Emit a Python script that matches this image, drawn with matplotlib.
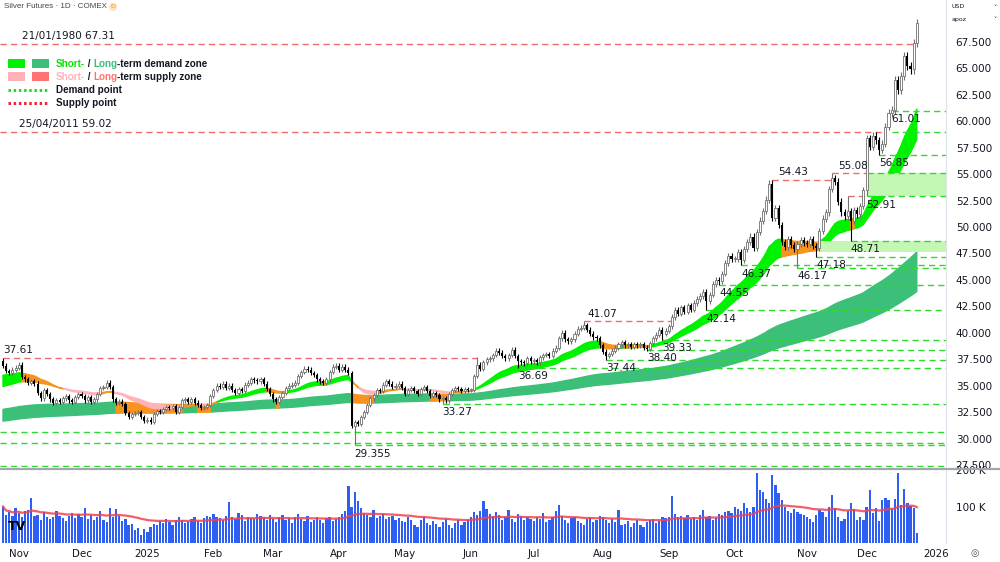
import numpy as np
import pandas as pd
import matplotlib.pyplot as plt
from matplotlib.patches import Rectangle
from matplotlib.lines import Line2D

W, H = 1000, 562

# ---------------- data ----------------
# daily closes, one list per month (Oct 2024 .. 23 Dec 2025)
close_oct24 = [36.9, 36.4, 36.2, 36.5, 36.7]
close_nov24 = [37.0, 35.8, 35.6, 35.3, 35.4, 35.2, 34.3, 33.8, 34.6, 34.2,
               33.7, 33.4, 33.6, 33.5, 33.8, 34.0, 33.6, 33.5, 33.9, 34.2]
close_dec24 = [34.0, 33.6, 33.9, 33.5, 33.7, 34.2, 34.8, 34.9, 35.3, 34.9,
               33.7, 33.4, 33.5, 33.3, 32.4, 32.0, 32.3, 32.4, 32.5, 32.0, 31.7]
close_jan25 = [31.8, 31.6, 32.3, 32.6, 32.5, 32.8, 33.0, 32.9, 33.1, 32.5,
               33.0, 33.6, 33.7, 33.5, 33.7, 33.4, 33.2, 32.9, 33.0, 33.2, 34.0]
close_feb25 = [34.6, 35.0, 34.9, 35.2, 34.8, 35.0, 34.6, 34.3, 34.7, 34.5,
               35.1, 35.3, 35.6, 35.5, 35.4, 35.6, 35.2, 34.7, 34.2]
close_mar25 = [33.7, 33.5, 33.9, 34.3, 34.8, 35.0, 35.1, 35.3, 35.9, 36.3,
               36.6, 36.5, 36.2, 36.0, 35.6, 35.4, 35.3, 35.6, 36.3, 36.8, 36.9]
close_apr25 = [36.5, 36.8, 36.5, 36.2, 31.2, 31.6, 31.4, 32.0, 32.5, 33.2,
               33.8, 34.1, 34.6, 34.5, 35.1, 35.4, 35.2, 34.9, 35.0, 35.2, 34.8]
close_may25 = [34.2, 34.6, 34.8, 34.5, 34.2, 34.7, 34.9, 34.5, 34.0, 34.3,
               34.1, 33.7, 33.8, 33.6, 34.2, 34.6, 34.8, 34.7, 34.5, 34.7, 34.6]
close_jun25 = [34.6, 35.9, 37.0, 36.6, 37.2, 37.5, 37.6, 37.9, 38.3, 38.1,
               37.8, 37.6, 37.9, 38.4, 37.8, 37.3, 37.2, 37.1, 37.6, 37.3]
close_jul25 = [37.4, 37.2, 37.7, 37.9, 38.0, 37.8, 38.3, 38.6, 39.5, 40.0,
               39.4, 39.2, 39.4, 39.9, 40.4, 40.5, 40.7, 40.3, 39.9, 39.6, 39.5, 38.8]
close_aug25 = [38.2, 37.8, 38.0, 38.3, 38.6, 38.9, 39.1, 38.8, 38.9, 38.7,
               38.9, 38.8, 38.9, 38.6, 38.5, 39.0, 39.5, 39.8, 40.3, 39.9, 40.2]
close_sep25 = [40.6, 41.5, 42.2, 41.8, 42.4, 42.0, 42.6, 42.2, 42.8, 43.2,
               43.5, 43.9, 43.0, 43.6, 44.6, 45.0, 44.9, 45.6, 46.6, 47.3, 47.0]
close_oct25 = [47.0, 47.6, 46.9, 47.9, 48.6, 49.1, 48.0, 49.5, 50.6, 51.5,
               52.6, 54.1, 50.9, 51.8, 50.2, 48.6, 48.1, 48.9, 48.3, 47.9,
               48.4, 48.8, 48.5]
close_nov25 = [48.4, 48.9, 48.2, 48.0, 49.6, 50.8, 51.4, 53.6, 54.6, 54.3,
               52.4, 51.4, 51.0, 51.5, 50.6, 51.6, 51.2, 52.0, 53.5]
close_dec25 = [58.4, 57.6, 58.6, 58.2, 57.3, 57.9, 59.5, 60.8, 61.1, 63.9,
               63.0, 64.3, 66.2, 65.2, 64.9, 67.4, 69.3]
first_open = 37.3

# volume in thousands of contracts
vol_oct24 = [100, 78, 86, 73, 95]
vol_nov24 = [82, 70, 88, 90, 123, 75, 78, 62, 85, 70, 66, 72, 88, 74, 69, 60, 75, 82, 68, 80]
vol_dec24 = [72, 95, 66, 78, 62, 70, 88, 64, 58, 96, 70, 92, 75, 60, 66, 48, 52, 35, 40, 22, 38]
vol_jan25 = [30, 45, 52, 48, 60, 55, 66, 58, 50, 62, 70, 64, 55, 58, 66, 72, 60, 54, 68, 75, 70]
vol_feb25 = [80, 72, 68, 64, 75, 111, 70, 66, 82, 78, 60, 72, 69, 66, 80, 74, 70, 62, 76]
vol_mar25 = [65, 58, 70, 76, 62, 68, 55, 72, 80, 66, 60, 74, 58, 64, 70, 62, 55, 68, 72, 60, 66]
vol_apr25 = [72, 80, 88, 156, 100, 141, 114, 95, 82, 78, 72, 90, 68, 74, 80, 66, 70, 75, 62, 68, 60]
vol_may25 = [58, 72, 64, 50, 45, 62, 70, 55, 48, 60, 52, 44, 58, 66, 50, 42, 55, 62, 48, 58, 64]
vol_jun25 = [70, 84, 78, 88, 114, 92, 80, 75, 86, 78, 64, 72, 90, 66, 58, 80, 74, 62, 70, 66]
vol_jul25 = [60, 72, 66, 82, 58, 64, 70, 88, 105, 74, 62, 55, 68, 72, 60, 54, 48, 66, 70, 58, 62, 75]
vol_aug25 = [70, 62, 55, 66, 58, 91, 48, 52, 60, 45, 56, 64, 50, 44, 58, 62, 66, 54, 60, 72, 68]
vol_sep25 = [72, 129, 80, 70, 74, 68, 76, 66, 72, 64, 78, 91, 70, 74, 62, 68, 80, 76, 84, 88, 82]
vol_oct25 = [100, 92, 88, 109, 95, 86, 100, 193, 145, 140, 120, 110, 186, 159, 136, 118,
             98, 88, 82, 92, 86, 80, 76]
vol_nov25 = [72, 66, 58, 78, 90, 84, 70, 100, 132, 96, 72, 60, 66, 88, 109, 92, 64, 70, 62]
vol_dec25 = [100, 144, 82, 96, 60, 118, 122, 118, 96, 120, 191, 105, 148, 109, 102, 95, 27]

# wick extremes that show on the chart (bar number -> price)
high_marks = {0: 37.61, 151: 37.7, 185: 41.07, 245: 54.43, 264: 55.08, 269: 52.93, 291: 69.5}
low_marks = {112: 29.355, 140: 33.27, 164: 36.69, 192: 37.44, 205: 38.40, 210: 39.33,
             224: 42.14, 228: 44.55, 235: 46.37, 253: 46.17, 259: 47.18, 270: 48.71,
             275: 52.91, 279: 56.85, 283: 61.01}

# demand points (green) and supply points (red)
demand_price = [29.355, 33.27, 36.69, 37.44, 38.40, 39.33, 42.14, 44.55, 46.37,
                46.17, 47.18, 48.71, 52.91, 56.85, 61.01]
demand_bar = [112, 140, 164, 192, 205, 210, 224, 228, 235, 253, 259, 270, 275, 279, 283]
demand_text = ["29.355", "33.27", "36.69", "37.44", "38.40", "39.33", "42.14", "44.55",
               "46.37", "46.17", "47.18", "48.71", "52.91", "56.85", "61.01"]
older_demand_price = [27.41, 29.6, 30.62]
extra_demand_price = [59.0, 55.15]
extra_demand_bar = [283, 275]

supply_price = [67.31, 59.02, 37.61, 41.07, 54.43, 55.08, 52.93]
supply_from = [-1, -1, 0, 185, 245, 264, 269]
supply_to = [290, 281, 151, 213, 264, 275, 275]
supply_text = ["21/01/1980 67.31", "25/04/2011 59.02", "37.61", "41.07", "54.43", "55.08", ""]
supply_text_bar = [6, 5, 0, 186, 247, 266, 0]

# short-term demand boxes
zone_from = [260, 275]
zone_lo = [47.65, 52.91]
zone_hi = [48.71, 55.15]

# moving-average bands: lengths and their values at the left edge
short_len = (21, 34)
short_seed = (35.9, 34.8)
long_len = (144, 233)
long_seed = (32.7, 31.6)

holidays = ["2024-11-28", "2024-12-25", "2025-01-01", "2025-01-20", "2025-02-17",
            "2025-04-18", "2025-05-26", "2025-06-19", "2025-07-04", "2025-09-01",
            "2025-11-27", "2025-12-25", "2026-01-01"]

# ---------------- derived ----------------
closes = np.array(close_oct24 + close_nov24 + close_dec24 + close_jan25 + close_feb25 +
                  close_mar25 + close_apr25 + close_may25 + close_jun25 + close_jul25 +
                  close_aug25 + close_sep25 + close_oct25 + close_nov25 + close_dec25)
volume = np.array(vol_oct24 + vol_nov24 + vol_dec24 + vol_jan25 + vol_feb25 + vol_mar25 +
                  vol_apr25 + vol_may25 + vol_jun25 + vol_jul25 + vol_aug25 + vol_sep25 +
                  vol_oct25 + vol_nov25 + vol_dec25, dtype=float)
n = len(closes)
x = np.arange(n)

cbd = pd.offsets.CustomBusinessDay(holidays=holidays)
dates = pd.date_range("2024-10-25", periods=n + 8, freq=cbd)

opens = np.r_[first_open, closes[:-1]]
highs = np.maximum(opens, closes) * 1.006
lows = np.minimum(opens, closes) * 0.994
for k, v in high_marks.items():
    highs[k] = max(highs[k], v)
for k, v in low_marks.items():
    lows[k] = min(lows[k], v)


def ema(vals, length, seed):
    a = 2.0 / (length + 1)
    out = np.empty(len(vals))
    v = seed
    for i, c in enumerate(vals):
        v = v + a * (c - v)
        out[i] = v
    return out


def grow(m):
    g = m.copy()
    g[1:] |= m[:-1]
    return g


fast = ema(closes, short_len[0], short_seed[0])
slow = ema(closes, short_len[1], short_seed[1])
lt_up = ema(closes, long_len[0], long_seed[0])
lt_lo = ema(closes, long_len[1], long_seed[1])
vol_ma = pd.Series(volume).ewm(span=40).mean().to_numpy()

XMIN, XMAX = -0.96, 300.3
TXT = "#131722"
GREEN = "#2edb2e"
RED = "#f06b6b"
DASH = (0, (4.5, 3))
ORANGE = "#f7931e"

fig = plt.figure(figsize=(10, 5.62), dpi=100)
ax = fig.add_axes([0, 1 - 467 / H, 946 / W, 467 / H])
vax = fig.add_axes([0, 1 - 543 / H, 946 / W, 75 / H], sharex=ax)


def band(lo, hi, mask, color, z):
    ax.fill_between(x, lo, hi, where=grow(mask), color=color, ec=color, lw=1.0, zorder=z)


# long-term band
hi_l = np.maximum(lt_up, lt_lo)
lo_l = np.minimum(lt_up, lt_lo)
below = closes < hi_l
band(lo_l, hi_l, ~below, "#3cbf78", 1)
band(lo_l, hi_l, below, ORANGE, 1.05)

# short-term band
hi_s = np.maximum(fast, slow)
lo_s = np.minimum(fast, slow)
bull = fast >= slow
clash = (bull & (closes < hi_s)) | (~bull & (closes > hi_s))
band(lo_s, hi_s, bull & ~clash, "#00f200", 1.2)
band(lo_s, hi_s, ~bull & ~clash, "#ffb3b8", 1.2)
band(lo_s, hi_s, clash, ORANGE, 1.3)

# demand boxes
for s, lo, hi in zip(zone_from, zone_lo, zone_hi):
    ax.fill_between([s, XMAX], lo, hi, color="#c3f7b3", lw=0, zorder=1.5)

# demand / supply lines
for p in older_demand_price:
    ax.hlines(p, XMIN, XMAX, colors=GREEN, linestyles=DASH, lw=1.0, zorder=2)
for p, b in zip(extra_demand_price, extra_demand_bar):
    ax.hlines(p, b, XMAX, colors=GREEN, linestyles=DASH, lw=1.0, zorder=2)
for p, b, t in zip(demand_price, demand_bar, demand_text):
    ax.hlines(p, b, XMAX, colors=GREEN, linestyles=DASH, lw=1.0, zorder=2)
    ax.annotate(t, xy=(b, p), xytext=(0, -2.5), textcoords="offset points",
                ha="left", va="top", fontsize=7.5, color=TXT, zorder=5)
for p, a, b, t, tb in zip(supply_price, supply_from, supply_to, supply_text, supply_text_bar):
    ax.hlines(p, max(a, XMIN), b, colors=RED, linestyles=DASH, lw=1.0, zorder=2)
    if t:
        ax.annotate(t, xy=(tb, p), xytext=(0, 2), textcoords="offset points",
                    ha="left", va="bottom", fontsize=7.5, color=TXT, zorder=5)

# candles
up = closes >= opens
body_lo = np.minimum(opens, closes)
body_h = np.maximum(np.abs(closes - opens), 0.08)
ax.vlines(x[up], lows[up], highs[up], color="#707070", lw=0.8, zorder=3)
ax.vlines(x[~up], lows[~up], highs[~up], color="black", lw=0.8, zorder=3)
ax.bar(x[up], body_h[up], bottom=body_lo[up], width=0.66, facecolor="white",
       edgecolor="#707070", linewidth=0.6, zorder=3.1)
ax.bar(x[~up], body_h[~up], bottom=body_lo[~up], width=0.66, color="black",
       linewidth=0, zorder=3.1)

ax.set_xlim(XMIN, XMAX)
ax.set_ylim(27.31, 71.47)
ax.yaxis.tick_right()
ax.set_yticks(np.arange(27.5, 68, 2.5))
ax.set_yticklabels([f"{v:.3f}" for v in np.arange(27.5, 68, 2.5)])
ax.tick_params(axis="y", length=0, pad=7, labelsize=7.5, labelcolor=TXT)
ax.tick_params(axis="x", length=0, labelbottom=False)
for s in ("top", "left", "bottom"):
    ax.spines[s].set_visible(False)
ax.spines["right"].set_color("#e0e3eb")

# volume
vax.bar(x, volume, width=0.72, color="#2f5ff2", linewidth=0)
vax.plot(x, vol_ma, color="#f0434f", lw=1.6, alpha=0.85)
vax.set_ylim(0, 205.5)
vax.yaxis.tick_right()
vax.set_yticks([100, 200])
vax.set_yticklabels(["100 K", "200 K"])
vax.tick_params(axis="y", length=0, pad=7, labelsize=7.5, labelcolor=TXT)
for s in ("top", "left", "bottom"):
    vax.spines[s].set_visible(False)
vax.spines["right"].set_color("#e0e3eb")

months = pd.Series(dates.to_period("M"))
starts = np.flatnonzero(months.ne(months.shift()).to_numpy())[1:]
vax.set_xticks(starts)
vax.set_xticklabels([d.strftime("%Y") if d.month == 1 else d.strftime("%b") for d in dates[starts]])
vax.tick_params(axis="x", length=0, pad=4, labelsize=7.4, labelcolor=TXT)

# panel separator
fig.add_artist(Line2D([0, 1], [1 - 469 / H] * 2, color="#a3a6ad", lw=1.6))

# header
fig.text(4 / W, 1 - 7 / H, "Silver Futures · 1D · COMEX", fontsize=5.8, color="#434651",
         family="Liberation Sans", va="center")
fig.text(113 / W, 1 - 7 / H, "D", fontsize=4.5, color="#f7931a", ha="center", va="center",
         bbox=dict(boxstyle="circle,pad=0.25", fc="#fde4c2", ec="none"))
fig.text(952 / W, 1 - 7 / H, "USD", fontsize=4.5, color=TXT, va="center")
fig.text(952 / W, 1 - 19 / H, "apoz", fontsize=4.5, color=TXT, va="center")
fig.text(993 / W, 1 - 7 / H, "˅", fontsize=4.5, color=TXT, va="center")
fig.text(993 / W, 1 - 19 / H, "˅", fontsize=4.5, color=TXT, va="center")
fig.text(975 / W, 1 - 553 / H, "◎", fontsize=7, color="#555", ha="center", va="center")
fig.text(8 / W, 1 - 527 / H, "TV", fontsize=9, weight="bold", color="black", va="center")

# legend
lf = dict(fontsize=7.1, weight="bold", family="Liberation Sans")


def rich(ypx, parts):
    t = fig.text(56 / W, 1 - ypx / H, parts[0][0], color=parts[0][1], va="center", **lf)
    for s, c in parts[1:]:
        t = ax.annotate(s, xy=(1, 0), xycoords=t, va="bottom", ha="left", color=c, **lf)


def box(xpx, ypx, c):
    fig.add_artist(Rectangle((xpx / W, 1 - (ypx + 9) / H), 17 / W, 9 / H,
                             transform=fig.transFigure, fc=c, ec="none"))


box(8, 59, "#00f200")
box(32, 59, "#3cbf78")
box(8, 72, "#ffb3b8")
box(32, 72, "#ff7373")
rich(64, [("Short-", "#00e600"), (" / ", TXT), ("Long", "#3cbf78"), ("-term demand zone", TXT)])
rich(77, [("Short-", "#ffb3b8"), (" / ", TXT), ("Long", "#ff7373"), ("-term supply zone", TXT)])
fig.add_artist(Line2D([8 / W, 49 / W], [1 - 90 / H] * 2, color="#22dd22", lw=2.2,
                      linestyle=(0, (0.8, 0.9))))
fig.add_artist(Line2D([8 / W, 49 / W], [1 - 103 / H] * 2, color="#ee2233", lw=2.2,
                      linestyle=(0, (0.8, 0.9))))
fig.text(56 / W, 1 - 90 / H, "Demand point", color=TXT, va="center", **lf)
fig.text(56 / W, 1 - 103 / H, "Supply point", color=TXT, va="center", **lf)

fig.savefig("out.png", dpi=100)
